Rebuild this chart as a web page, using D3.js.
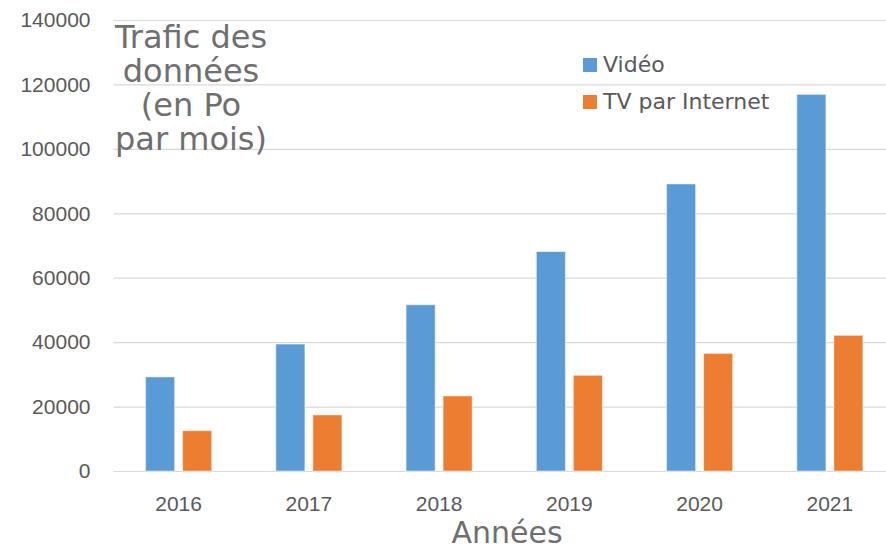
<!DOCTYPE html>
<html>
<head>
<meta charset="utf-8">
<script src="https://cdn.jsdelivr.net/npm/d3@7"></script>
<style>
  body { margin: 0; background: #fff; }
  svg { display: block; font-family: "DejaVu Sans", sans-serif; }
</style>
</head>
<body>
<svg id="chart"></svg>
<script>
// data
const years = ['2016', '2017', '2018', '2019', '2020', '2021'];
const video = [29200, 39400, 51600, 68100, 89100, 116900];
const tvInternet = [12500, 17400, 23300, 29700, 36500, 42100];
const yTicks = [0, 20000, 40000, 60000, 80000, 100000, 120000, 140000];
const seriesNames = ['Vidéo', 'TV par Internet'];
const seriesColors = ['#5b9bd5', '#ed7d31'];
const titleLines = ['Trafic des', 'données', '(en Po', 'par mois)'];

const width = 886, height = 550;
const margin = {top: 20, right: -9, bottom: 79, left: 113.5};

const svg = d3.select('#chart')
    .attr('width', width)
    .attr('height', height);

const rows = years.map((yr, i) => ({year: yr, values: [video[i], tvInternet[i]]}));

const y = d3.scaleLinear()
    .domain([0, 140000])
    .range([height - margin.bottom, margin.top]);

const x0 = d3.scaleBand()
    .domain(years)
    .range([margin.left, width - margin.right])
    .paddingInner(0.493)
    .paddingOuter(0.2465);

const x1 = d3.scaleBand()
    .domain(d3.range(seriesNames.length))
    .range([0, x0.bandwidth()])
    .paddingInner(0.216);

// gridlines + y labels
const yAxis = d3.axisLeft(y)
    .tickValues(yTicks)
    .tickFormat(d3.format('d'))
    .tickSize(-(width - margin.left))
    .tickPadding(23);

const yg = svg.append('g')
    .attr('transform', 'translate(' + margin.left + ',0)')
    .call(yAxis);
yg.select('.domain').remove();
yg.selectAll('line').attr('stroke', '#d9d9d9').attr('stroke-width', 1.2);
yg.selectAll('text')
    .attr('fill', '#595959')
    .style('font-size', '21px');

// bars
const groups = svg.append('g')
    .selectAll('g')
    .data(rows)
    .enter().append('g')
    .attr('transform', d => 'translate(' + x0(d.year) + ',0)');

groups.selectAll('rect')
    .data(d => d.values)
    .enter().append('rect')
    .attr('x', (d, i) => x1(i))
    .attr('width', x1.bandwidth())
    .attr('y', d => y(d))
    .attr('height', d => y(0) - y(d))
    .attr('fill', (d, i) => seriesColors[i])
    .attr('stroke', '#ffffff')
    .attr('stroke-opacity', 0.45)
    .attr('stroke-width', 1);

// x labels
const xAxis = d3.axisBottom(x0).tickSize(0).tickPadding(25);
const xg = svg.append('g')
    .attr('transform', 'translate(0,' + y(0) + ')')
    .call(xAxis);
xg.select('.domain').remove();
xg.selectAll('text')
    .attr('fill', '#595959')
    .style('font-size', '21px');

// y title, sits inside the plot
svg.append('text')
    .attr('x', 191)
    .attr('y', 48)
    .attr('text-anchor', 'middle')
    .attr('fill', '#6f6f6f')
    .style('font-size', '32px')
    .selectAll('tspan')
    .data(titleLines)
    .enter().append('tspan')
    .attr('x', 191)
    .attr('dy', (d, i) => i === 0 ? 0 : 34)
    .text(d => d);

// x title
svg.append('text')
    .attr('x', 507)
    .attr('y', 543)
    .attr('text-anchor', 'middle')
    .attr('fill', '#6f6f6f')
    .style('font-size', '30px')
    .text('Années');

// legend
const legend = svg.append('g')
    .selectAll('g')
    .data(seriesNames)
    .enter().append('g')
    .attr('transform', (d, i) => 'translate(583,' + (58 + i * 37) + ')');

legend.append('rect')
    .attr('width', 14)
    .attr('height', 14)
    .attr('fill', (d, i) => seriesColors[i]);

legend.append('text')
    .attr('x', 20)
    .attr('y', 14)
    .attr('fill', '#595959')
    .style('font-size', '22px')
    .text(d => d);
</script>
</body>
</html>
